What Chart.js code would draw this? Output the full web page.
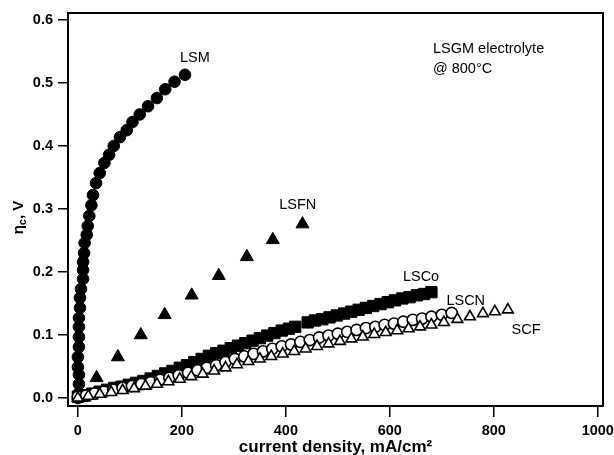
<!DOCTYPE html>
<html>
<head>
<meta charset="utf-8">
<script src="https://cdn.jsdelivr.net/npm/chart.js@4/dist/chart.umd.min.js"></script>
<style>
  html, body { margin: 0; padding: 0; background: #fff; }
  canvas { display: block; }
</style>
</head>
<body>
<canvas id="chart" width="614" height="455"></canvas>
<script>
// Cathode overpotential vs current density, LSGM electrolyte at 800 °C
const xTicks = [0, 200, 400, 600, 800, 1000];
const yTicks = [0.0, 0.1, 0.2, 0.3, 0.4, 0.5, 0.6];

// LSM (filled circles)
const lsmX = [0, 2, 2, 2, 0, 0, 2, 2, 2, 2, 4, 4, 6, 10, 10, 10, 12, 13, 17, 19, 22, 26, 29, 35, 42, 51, 60, 69, 81, 94, 105, 119, 135, 152, 168, 186, 206];
const lsmY = [0.000, 0.008, 0.022, 0.037, 0.049, 0.065, 0.081, 0.097, 0.113, 0.127, 0.143, 0.159, 0.173, 0.189, 0.203, 0.216, 0.230, 0.246, 0.259, 0.273, 0.289, 0.306, 0.322, 0.341, 0.357, 0.373, 0.386, 0.400, 0.414, 0.425, 0.438, 0.450, 0.463, 0.476, 0.490, 0.502, 0.513];

// LSFN (filled triangles)
const lsfnX = [36, 77, 121, 167, 219, 271, 325, 375, 432];
const lsfnY = [0.032, 0.065, 0.100, 0.132, 0.163, 0.194, 0.224, 0.251, 0.276];

// LSCo (filled squares)
const lscoX = [0, 14, 28, 42, 56, 70, 84, 98, 112, 126, 140, 154, 168, 182, 196, 210, 224, 238, 252, 266, 280, 294, 308, 322, 336, 350, 364, 378, 392, 406, 418, 442, 456, 470, 484, 498, 512, 526, 540, 554, 568, 582, 596, 610, 624, 638, 652, 666, 680];
const lscoY = [0.002, 0.004, 0.007, 0.010, 0.013, 0.016, 0.018, 0.021, 0.024, 0.027, 0.031, 0.035, 0.039, 0.043, 0.048, 0.052, 0.057, 0.062, 0.067, 0.071, 0.075, 0.079, 0.083, 0.087, 0.091, 0.095, 0.099, 0.103, 0.107, 0.110, 0.113, 0.120, 0.123, 0.125, 0.128, 0.131, 0.134, 0.137, 0.140, 0.143, 0.146, 0.149, 0.152, 0.155, 0.158, 0.160, 0.163, 0.165, 0.168];

// LSCN (open circles)
const lscnX = [0, 16, 32, 50, 68, 86, 104, 122, 140, 158, 176, 194, 212, 230, 248, 266, 284, 302, 320, 338, 356, 374, 392, 410, 428, 446, 464, 482, 500, 518, 536, 554, 572, 590, 608, 626, 644, 662, 680, 700, 719];
const lscnY = [0.002, 0.004, 0.007, 0.010, 0.013, 0.016, 0.019, 0.022, 0.025, 0.029, 0.032, 0.036, 0.040, 0.044, 0.048, 0.052, 0.057, 0.062, 0.066, 0.070, 0.074, 0.078, 0.082, 0.085, 0.089, 0.092, 0.096, 0.099, 0.102, 0.105, 0.108, 0.111, 0.113, 0.116, 0.118, 0.121, 0.124, 0.126, 0.129, 0.132, 0.135];

// SCF (open triangles)
const scfX = [0, 20, 42, 64, 86, 108, 130, 152, 174, 196, 218, 240, 262, 284, 306, 328, 350, 372, 394, 416, 438, 460, 482, 504, 526, 548, 570, 592, 614, 636, 658, 680, 704, 730, 754, 779, 802, 827];
const scfY = [0.000, 0.003, 0.006, 0.009, 0.012, 0.015, 0.019, 0.022, 0.026, 0.030, 0.034, 0.038, 0.043, 0.048, 0.053, 0.058, 0.062, 0.066, 0.070, 0.074, 0.078, 0.082, 0.086, 0.090, 0.094, 0.097, 0.101, 0.104, 0.107, 0.110, 0.113, 0.116, 0.120, 0.125, 0.129, 0.134, 0.137, 0.140];

const pts = (xs, ys) => xs.map((x, i) => ({ x: x, y: ys[i] }));

// Curve labels, placed in data coordinates
const curveLabels = [
  { text: 'LSM',  x: 225, y: 0.540 },
  { text: 'LSFN', x: 423, y: 0.306 },
  { text: 'LSCo', x: 660, y: 0.192 },
  { text: 'LSCN', x: 746, y: 0.154 },
  { text: 'SCF',  x: 862, y: 0.108 }
];

const FONT = '"Liberation Sans", Arial, Helvetica, sans-serif';

const framePlugin = {
  id: 'frame',
  afterDatasetsDraw(chart) {
    const { ctx, chartArea: a } = chart;
    ctx.save();
    ctx.strokeStyle = '#000';
    ctx.lineWidth = 2;
    ctx.strokeRect(a.left, a.top, a.right - a.left, a.bottom - a.top);
    ctx.restore();
  }
};

const textPlugin = {
  id: 'texts',
  afterDraw(chart) {
    const { ctx, chartArea: a } = chart;
    const xs = chart.scales.x, ys = chart.scales.y;
    ctx.save();
    ctx.fillStyle = '#000';
    ctx.textBaseline = 'middle';

    // curve labels
    ctx.font = '14.5px ' + FONT;
    ctx.textAlign = 'center';
    curveLabels.forEach(l => {
      ctx.fillText(l.text, xs.getPixelForValue(l.x), ys.getPixelForValue(l.y));
    });

    // condition note
    ctx.textAlign = 'left';
    const nx = xs.getPixelForValue(683);
    ctx.fillText('LSGM electrolyte', nx, ys.getPixelForValue(0.554));
    ctx.fillText('@ 800°C', nx, ys.getPixelForValue(0.522));

    // y axis title: eta with subscript c
    const cy = (a.top + a.bottom) / 2 + 8;
    ctx.translate(19, cy);
    ctx.rotate(-Math.PI / 2);
    const bigFont = 'bold 15px ' + FONT;
    const subFont = 'bold 11px ' + FONT;
    ctx.font = bigFont; const w1 = ctx.measureText('η').width;
    ctx.font = subFont; const w2 = ctx.measureText('c').width;
    ctx.font = bigFont; const w3 = ctx.measureText(', V').width;
    let px = -(w1 + w2 + w3) / 2;
    ctx.font = bigFont; ctx.fillText('η', px, 0); px += w1;
    ctx.font = subFont; ctx.fillText('c', px, 4); px += w2;
    ctx.font = bigFont; ctx.fillText(', V', px, 0);
    ctx.restore();
  }
};

const tickList = arr => scale => { scale.ticks = arr.map(v => ({ value: v })); };

new Chart(document.getElementById('chart'), {
  type: 'scatter',
  data: {
    datasets: [
      { label: 'SCF', data: pts(scfX, scfY), pointStyle: 'triangle', pointRadius: 6.2,
        backgroundColor: '#fff', borderColor: '#000', borderWidth: 1.6, order: 1 },
      { label: 'LSCN', data: pts(lscnX, lscnY), pointStyle: 'circle', pointRadius: 5.6,
        backgroundColor: '#fff', borderColor: '#000', borderWidth: 1.6, order: 2 },
      { label: 'LSCo', data: pts(lscoX, lscoY), pointStyle: 'rect', pointRadius: 8,
        backgroundColor: '#000', borderColor: '#000', borderWidth: 1, order: 3 },
      { label: 'LSFN', data: pts(lsfnX, lsfnY), pointStyle: 'triangle', pointRadius: 7.5,
        backgroundColor: '#000', borderColor: '#000', borderWidth: 1, order: 4 },
      { label: 'LSM', data: pts(lsmX, lsmY), pointStyle: 'circle', pointRadius: 5.8,
        backgroundColor: '#000', borderColor: '#000', borderWidth: 1, order: 5 }
    ]
  },
  options: {
    responsive: false,
    animation: false,
    events: [],
    layout: { padding: { top: 13, right: 11, left: 0, bottom: 0 } },
    plugins: { legend: { display: false }, tooltip: { enabled: false } },
    scales: {
      x: {
        type: 'linear', position: 'bottom',
        min: -19, max: 1010,
        afterBuildTicks: tickList(xTicks),
        afterFit: s => { s.height = 49; s.paddingLeft = 0; s.paddingRight = 0; },
        border: { display: false },
        grid: { drawOnChartArea: false, drawTicks: true, tickLength: 11, color: '#000', lineWidth: 1.5 },
        ticks: { color: '#000', padding: 5, font: { family: FONT, size: 14.5, weight: 'bold' },
                 maxRotation: 0, callback: v => String(v) },
        title: { display: true, text: 'current density, mA/cm²', color: '#000',
                 font: { family: FONT, size: 17, weight: 'bold', lineHeight: 1.0 }, padding: { top: 0, bottom: -1 } }
      },
      y: {
        type: 'linear', position: 'left',
        min: -0.0127, max: 0.611,
        afterBuildTicks: tickList(yTicks),
        afterFit: s => { s.width = 68; s.paddingTop = 0; s.paddingBottom = 0; },
        border: { display: false },
        grid: { drawOnChartArea: false, drawTicks: true, tickLength: 10, color: '#000', lineWidth: 1.5 },
        ticks: { color: '#000', padding: 5, font: { family: FONT, size: 14.5, weight: 'bold' },
                 callback: v => Number(v).toFixed(1) }
      }
    }
  },
  plugins: [framePlugin, textPlugin]
});
</script>
</body>
</html>
